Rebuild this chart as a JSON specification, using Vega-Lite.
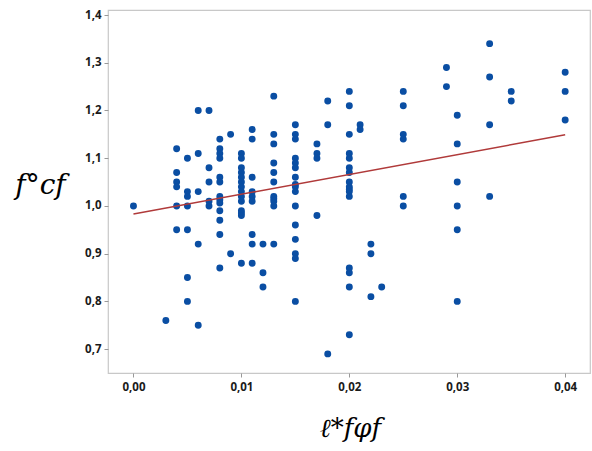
{
  "$schema": "https://vega.github.io/schema/vega-lite/v6.json",
  "width": 482,
  "height": 363,
  "autosize": "none",
  "padding": {"left": 108, "top": 10, "right": 2, "bottom": 78},
  "background": "white",
  "config": {
    "view": {"stroke": "#c8c8c8", "strokeWidth": 1.2},
    "axis": {
      "grid": false,
      "domain": false,
      "tickColor": "#999999",
      "tickSize": 4,
      "labelFont": "Open Sans",
      "labelFontSize": 11.5,
      "labelFontWeight": "bold",
      "labelColor": "#1a1a1a",
      "titleFont": "DejaVu Serif",
      "titleFontStyle": "italic",
      "titleFontWeight": "normal",
      "titleColor": "#000000"
    }
  },
  "datasets": {
    "points": [
      {"x": 0.000, "y": 1.00},
      {"x": 0.003, "y": 0.76},
      {"x": 0.004, "y": 1.12}, {"x": 0.004, "y": 1.07}, {"x": 0.004, "y": 1.05}, {"x": 0.004, "y": 1.04}, {"x": 0.004, "y": 1.00}, {"x": 0.004, "y": 0.95},
      {"x": 0.005, "y": 1.10}, {"x": 0.005, "y": 1.03}, {"x": 0.005, "y": 1.02}, {"x": 0.005, "y": 1.00}, {"x": 0.005, "y": 0.95}, {"x": 0.005, "y": 0.85}, {"x": 0.005, "y": 0.80},
      {"x": 0.006, "y": 1.20}, {"x": 0.006, "y": 1.11}, {"x": 0.006, "y": 1.03}, {"x": 0.006, "y": 0.92}, {"x": 0.006, "y": 0.75},
      {"x": 0.007, "y": 1.20}, {"x": 0.007, "y": 1.08}, {"x": 0.007, "y": 1.05}, {"x": 0.007, "y": 1.01}, {"x": 0.007, "y": 1.00},
      {"x": 0.008, "y": 1.14}, {"x": 0.008, "y": 1.12}, {"x": 0.008, "y": 1.11}, {"x": 0.008, "y": 1.10}, {"x": 0.008, "y": 1.06}, {"x": 0.008, "y": 1.05}, {"x": 0.008, "y": 1.02}, {"x": 0.008, "y": 1.013}, {"x": 0.008, "y": 1.006}, {"x": 0.008, "y": 0.99}, {"x": 0.008, "y": 0.97}, {"x": 0.008, "y": 0.94}, {"x": 0.008, "y": 0.87},
      {"x": 0.009, "y": 1.15}, {"x": 0.009, "y": 0.90},
      {"x": 0.010, "y": 1.11}, {"x": 0.010, "y": 1.10}, {"x": 0.010, "y": 1.08}, {"x": 0.010, "y": 1.07}, {"x": 0.010, "y": 1.06}, {"x": 0.010, "y": 1.05}, {"x": 0.010, "y": 1.04}, {"x": 0.010, "y": 1.03}, {"x": 0.010, "y": 1.02}, {"x": 0.010, "y": 1.01}, {"x": 0.010, "y": 0.99}, {"x": 0.010, "y": 0.985}, {"x": 0.010, "y": 0.98}, {"x": 0.010, "y": 0.88},
      {"x": 0.011, "y": 1.16}, {"x": 0.011, "y": 1.14}, {"x": 0.011, "y": 1.06}, {"x": 0.011, "y": 1.03}, {"x": 0.011, "y": 1.02}, {"x": 0.011, "y": 1.01}, {"x": 0.011, "y": 0.94}, {"x": 0.011, "y": 0.92}, {"x": 0.011, "y": 0.88},
      {"x": 0.012, "y": 0.92}, {"x": 0.012, "y": 0.86}, {"x": 0.012, "y": 0.83},
      {"x": 0.013, "y": 1.23}, {"x": 0.013, "y": 1.15}, {"x": 0.013, "y": 1.13}, {"x": 0.013, "y": 1.09}, {"x": 0.013, "y": 1.07}, {"x": 0.013, "y": 1.05}, {"x": 0.013, "y": 1.02}, {"x": 0.013, "y": 1.015}, {"x": 0.013, "y": 1.01}, {"x": 0.013, "y": 1.00}, {"x": 0.013, "y": 0.92},
      {"x": 0.015, "y": 1.17}, {"x": 0.015, "y": 1.15}, {"x": 0.015, "y": 1.14}, {"x": 0.015, "y": 1.10}, {"x": 0.015, "y": 1.09}, {"x": 0.015, "y": 1.08}, {"x": 0.015, "y": 1.06}, {"x": 0.015, "y": 1.045}, {"x": 0.015, "y": 1.04}, {"x": 0.015, "y": 1.03}, {"x": 0.015, "y": 1.00}, {"x": 0.015, "y": 0.96}, {"x": 0.015, "y": 0.93}, {"x": 0.015, "y": 0.90}, {"x": 0.015, "y": 0.89}, {"x": 0.015, "y": 0.80},
      {"x": 0.017, "y": 1.13}, {"x": 0.017, "y": 1.11}, {"x": 0.017, "y": 1.10}, {"x": 0.017, "y": 0.98},
      {"x": 0.018, "y": 1.22}, {"x": 0.018, "y": 1.17}, {"x": 0.018, "y": 0.69},
      {"x": 0.020, "y": 1.24}, {"x": 0.020, "y": 1.21}, {"x": 0.020, "y": 1.15}, {"x": 0.020, "y": 1.11}, {"x": 0.020, "y": 1.10}, {"x": 0.020, "y": 1.08}, {"x": 0.020, "y": 1.07}, {"x": 0.020, "y": 1.05}, {"x": 0.020, "y": 1.04}, {"x": 0.020, "y": 1.035}, {"x": 0.020, "y": 1.03}, {"x": 0.020, "y": 1.02}, {"x": 0.020, "y": 0.87}, {"x": 0.020, "y": 0.86}, {"x": 0.020, "y": 0.83}, {"x": 0.020, "y": 0.73},
      {"x": 0.021, "y": 1.17}, {"x": 0.021, "y": 1.16},
      {"x": 0.022, "y": 0.92}, {"x": 0.022, "y": 0.90}, {"x": 0.022, "y": 0.81},
      {"x": 0.023, "y": 0.83},
      {"x": 0.025, "y": 1.24}, {"x": 0.025, "y": 1.21}, {"x": 0.025, "y": 1.15}, {"x": 0.025, "y": 1.14}, {"x": 0.025, "y": 1.02}, {"x": 0.025, "y": 1.00},
      {"x": 0.029, "y": 1.29}, {"x": 0.029, "y": 1.25},
      {"x": 0.030, "y": 1.19}, {"x": 0.030, "y": 1.13}, {"x": 0.030, "y": 1.05}, {"x": 0.030, "y": 1.00}, {"x": 0.030, "y": 0.95}, {"x": 0.030, "y": 0.80},
      {"x": 0.033, "y": 1.34}, {"x": 0.033, "y": 1.27}, {"x": 0.033, "y": 1.17}, {"x": 0.033, "y": 1.02},
      {"x": 0.035, "y": 1.24}, {"x": 0.035, "y": 1.22},
      {"x": 0.040, "y": 1.28}, {"x": 0.040, "y": 1.24}, {"x": 0.040, "y": 1.18}
    ],
    "fit": [
      {"x": 0.000, "y": 0.983},
      {"x": 0.040, "y": 1.149}
    ]
  },
  "layer": [
    {
      "data": {"name": "points"},
      "mark": {"type": "circle", "size": 48, "color": "#0a4ea3", "opacity": 1},
      "encoding": {
        "x": {
          "field": "x", "type": "quantitative",
          "scale": {"domain": [-0.00236, 0.0423], "nice": false, "zero": false},
          "axis": {
            "values": [0, 0.01, 0.02, 0.03, 0.04],
            "labelExpr": "replace(format(datum.value, '.2f'), '.', ',')",
            "title": "ℓ*fφf",
            "titleFontSize": 26,
            "titleX": 242,
            "titleY": 55,
            "titleAlign": "center",
            "titleBaseline": "middle",
            "labelPadding": 4
          }
        },
        "y": {
          "field": "y", "type": "quantitative",
          "scale": {"domain": [0.650, 1.4105], "nice": false, "zero": false},
          "axis": {
            "values": [0.7, 0.8, 0.9, 1.0, 1.1, 1.2, 1.3, 1.4],
            "labelExpr": "replace(format(datum.value, '.1f'), '.', ',')",
            "title": "f°cf",
            "titleFontSize": 28,
            "titleAngle": 0,
            "titleX": -68,
            "titleY": 175,
            "titleAlign": "center",
            "titleBaseline": "middle",
            "labelPadding": 3
          }
        }
      }
    },
    {
      "data": {"name": "fit"},
      "mark": {"type": "line", "color": "#b03a3a", "strokeWidth": 1.5},
      "encoding": {
        "x": {"field": "x", "type": "quantitative"},
        "y": {"field": "y", "type": "quantitative"}
      }
    }
  ]
}
